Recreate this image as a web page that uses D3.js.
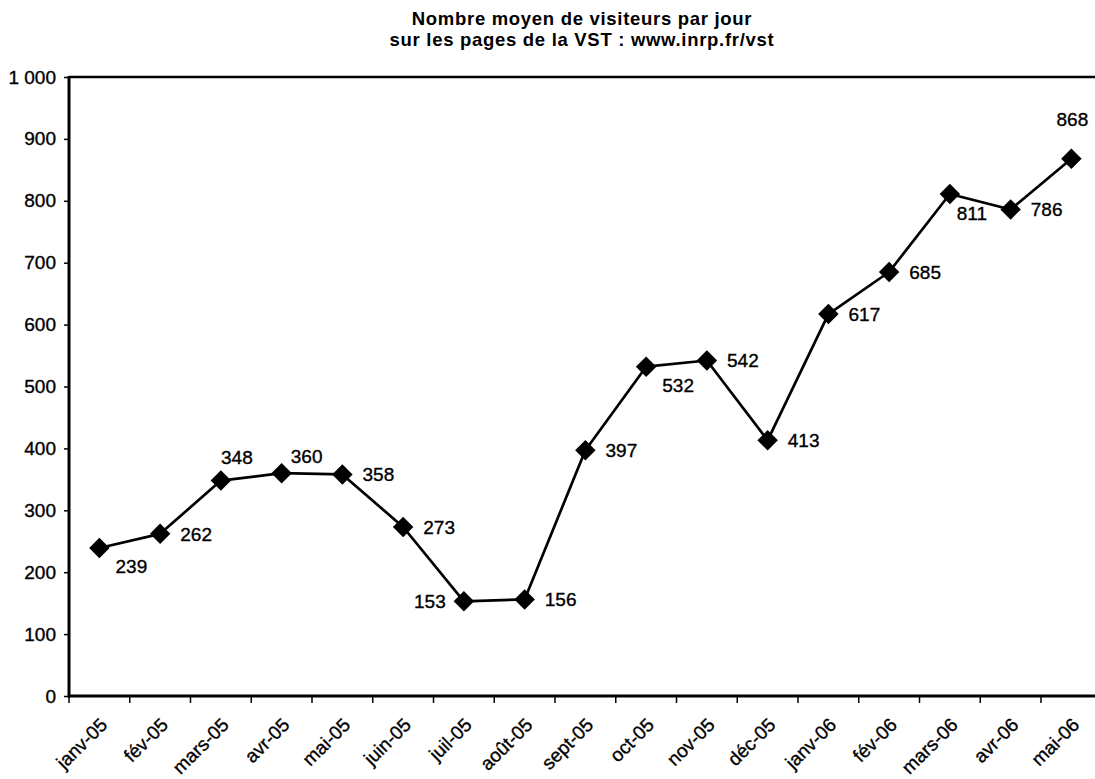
<!DOCTYPE html>
<html><head><meta charset="utf-8">
<script src="https://cdn.jsdelivr.net/npm/d3@7"></script>
<style>
html,body{margin:0;padding:0;background:#fff;}
svg{display:block;}
text{font-family:"Liberation Sans",Arial,sans-serif;fill:#000;}
</style></head>
<body>
<svg id="chart" width="1095" height="779"></svg>
<script>
const titleLines = ["Nombre moyen de visiteurs par jour", "sur les pages de la VST : www.inrp.fr/vst"];
const categories = ["janv-05","fév-05","mars-05","avr-05","mai-05","juin-05","juil-05","août-05","sept-05","oct-05","nov-05","déc-05","janv-06","fév-06","mars-06","avr-06","mai-06"];
const values = [239,262,348,360,358,273,153,156,397,532,542,413,617,685,811,786,868];
const yTicks = [0,100,200,300,400,500,600,700,800,900,1000];
// manual data-label placement (as in the original chart)
const labelPlacement = ["belowRight","right","above","aboveRight","right","right","left","right","right","belowRight","right","right","right","right","belowNear","right","top"];

const placementOffsets = {
  right:[36,0], belowRight:[32,18], left:[-34,0], above:[16,-23],
  aboveRight:[25,-17], top:[1,-40], belowNear:[22,19]
};

const W = 1095, H = 779;
const plot = {left:69, top:77, bottom:696, step:60.75};
const svg = d3.select("#chart");

const x = d3.scaleBand().domain(categories)
  .range([plot.left, plot.left + plot.step*categories.length]).padding(0);
const y = d3.scaleLinear().domain([0,1000]).range([plot.bottom, plot.top]);
const fr = d3.formatLocale({decimal:",", thousands:"\u00a0", grouping:[3], currency:["","€"]});
const fmt = fr.format(",");

// title
svg.append("g").selectAll("text").data(titleLines).join("text")
  .attr("x", 582).attr("y", (d,i)=>25 + i*21)
  .attr("text-anchor","middle").attr("font-weight","bold").attr("font-size","18.5px")
  .attr("letter-spacing","0.7px")
  .text(d=>d);

// top border
svg.append("line").attr("x1",plot.left).attr("x2",W)
  .attr("y1",y(1000)).attr("y2",y(1000)).attr("stroke","#000").attr("stroke-width",2.5);

// y axis
const yAxis = d3.axisLeft(y).tickValues(yTicks).tickSize(5).tickPadding(8).tickFormat(fmt);
const gy = svg.append("g").attr("transform",`translate(${plot.left},0)`).call(yAxis);
gy.select(".domain").remove();
gy.selectAll(".tick line").attr("stroke","#000").attr("stroke-width",1.5);
gy.selectAll(".tick text").attr("font-family","Liberation Sans, Arial, sans-serif")
  .attr("font-size","19px").attr("fill","#000").attr("x",-13)
  .attr("stroke","#000").attr("stroke-width",0.35);
svg.append("line").attr("x1",plot.left).attr("x2",plot.left)
  .attr("y1",plot.top-1).attr("y2",plot.bottom+1.5).attr("stroke","#000").attr("stroke-width",3);

// x axis: ticks at category boundaries
svg.append("line").attr("x1",plot.left).attr("x2",W)
  .attr("y1",plot.bottom).attr("y2",plot.bottom).attr("stroke","#000").attr("stroke-width",3);
svg.append("g").selectAll("line").data(categories).join("line")
  .attr("x1",d=>x(d)).attr("x2",d=>x(d))
  .attr("y1",plot.bottom).attr("y2",plot.bottom+7)
  .attr("stroke","#000").attr("stroke-width",1.5);
svg.append("g").selectAll("text").data(categories).join("text")
  .attr("transform",d=>`translate(${x(d)+x.bandwidth()/2+9},${plot.bottom+30}) rotate(-45)`)
  .attr("text-anchor","end").attr("font-size","19px")
  .attr("stroke","#000").attr("stroke-width",0.35)
  .text(d=>d);

// line
const pts = categories.map((c,i)=>({c, v:values[i], p:labelPlacement[i]}));
const line = d3.line().x(d=>x(d.c)+x.bandwidth()/2).y(d=>y(d.v));
svg.append("path").datum(pts).attr("d",line)
  .attr("fill","none").attr("stroke","#000").attr("stroke-width",2.7).attr("stroke-linejoin","round");

// markers
const sym = d3.symbol().type(d3.symbolSquare).size(210);
svg.append("g").selectAll("path").data(pts).join("path")
  .attr("d",sym())
  .attr("transform",d=>`translate(${x(d.c)+x.bandwidth()/2},${y(d.v)}) rotate(45)`)
  .attr("fill","#000");

// data labels
svg.append("g").selectAll("text").data(pts).join("text")
  .attr("x",d=>x(d.c)+x.bandwidth()/2 + placementOffsets[d.p][0])
  .attr("y",d=>y(d.v) + placementOffsets[d.p][1])
  .attr("dy","0.36em").attr("text-anchor","middle").attr("font-size","19px")
  .attr("stroke","#000").attr("stroke-width",0.35)
  .text(d=>d.v);
</script>
</body></html>
